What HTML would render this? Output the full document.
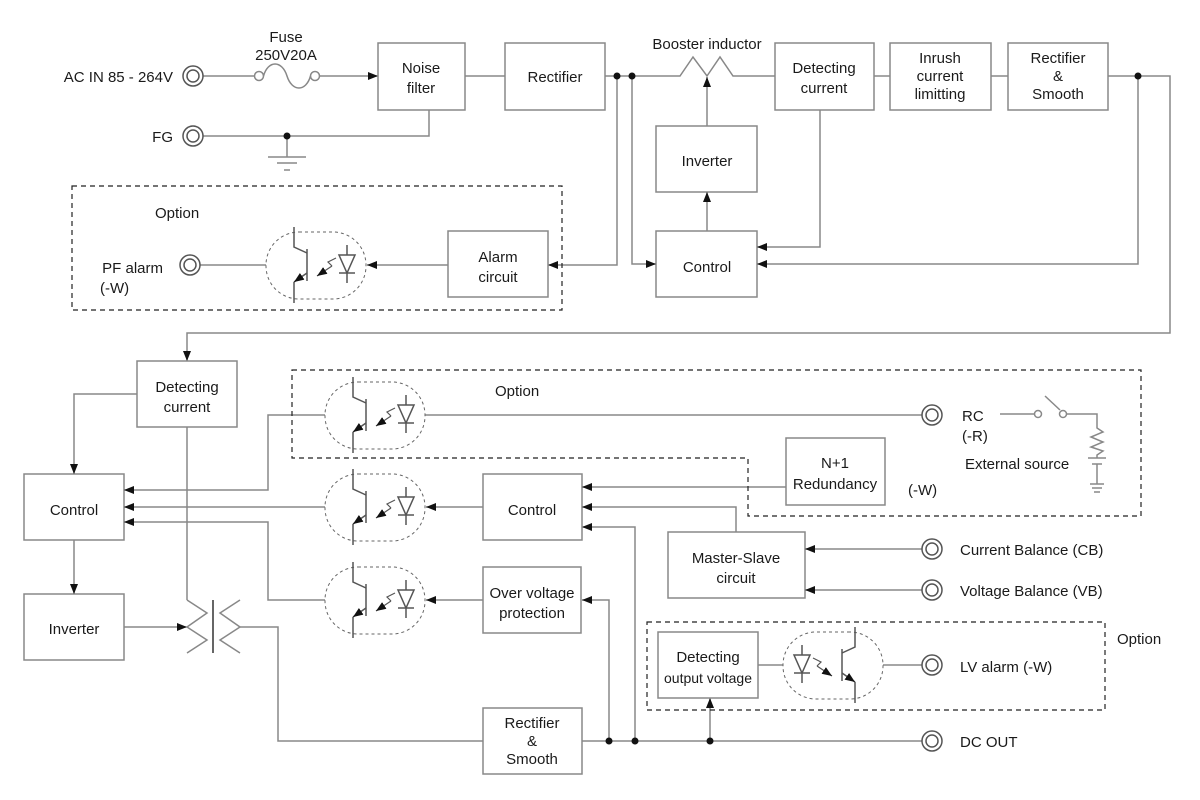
<!DOCTYPE html>
<html><head><meta charset="utf-8"><style>
html,body{margin:0;padding:0;background:#fff}
svg{display:block}
text{font-family:"Liberation Sans",sans-serif;font-size:15px;fill:#1a1a1a}
</style></head><body>
<svg width="1200" height="800" viewBox="0 0 1200 800" xmlns="http://www.w3.org/2000/svg">
<defs>
<marker id="a" markerWidth="10" markerHeight="8" refX="10" refY="4" orient="auto" markerUnits="userSpaceOnUse"><path d="M0,0 L10,4 L0,8 z" fill="#111"/></marker>
<g id="opto">
<rect x="-50" y="-33" width="100" height="67" rx="33" fill="none" stroke="#666" stroke-width="1" stroke-dasharray="3,3"/>
<line x1="-9" y1="-16" x2="-9" y2="16" stroke="#555" stroke-width="1.5"/>
<polyline points="-22,-38 -22,-18 -9,-12" fill="none" stroke="#555" stroke-width="1.5"/>
<polyline points="-22,38 -22,17" fill="none" stroke="#555" stroke-width="1.5"/>
<line x1="-9" y1="8" x2="-22" y2="17" stroke="#555" stroke-width="1.5" marker-end="url(#a)"/>
<line x1="31" y1="-20" x2="31" y2="-10" stroke="#555" stroke-width="1.5"/>
<polygon points="23,-10 39,-10 31,8" fill="none" stroke="#555" stroke-width="1.5"/>
<line x1="23" y1="8" x2="39" y2="8" stroke="#555" stroke-width="1.5"/>
<line x1="31" y1="8" x2="31" y2="18" stroke="#555" stroke-width="1.5"/>
<polyline points="20,-7 12,-3 16,1" fill="none" stroke="#555" stroke-width="1.2"/>
<line x1="16" y1="1" x2="1" y2="11" stroke="#555" stroke-width="1.2" marker-end="url(#a)"/>
</g>
<g id="term"><circle r="10" fill="#fff" stroke="#555" stroke-width="1.5"/><circle r="6" fill="none" stroke="#555" stroke-width="1.5"/></g>
</defs>
<g fill="none" stroke="#888" stroke-width="1.5">
<!-- top -->
<line x1="203" y1="76" x2="255" y2="76"/>
<circle cx="259" cy="76" r="4.5"/><circle cx="315" cy="76" r="4.5"/>
<path d="M263.5,76 C268,60 282,60 287,76 C292,92 306,92 310.5,76"/>
<line x1="319.5" y1="76" x2="378" y2="76" marker-end="url(#a)"/>
<polyline points="203,136 429,136 429,110"/>
<line x1="287" y1="136" x2="287" y2="157"/>
<line x1="268" y1="157" x2="306" y2="157"/><line x1="277" y1="163" x2="297" y2="163"/><line x1="284" y1="170" x2="290" y2="170"/>
<rect x="378" y="43" width="87" height="67"/>
<line x1="465" y1="76" x2="505" y2="76"/>
<rect x="505" y="43" width="100" height="67"/>
<polyline points="605,76 680,76 693,57 707,76 720,57 733,76 775,76"/>
<rect x="775" y="43" width="99" height="67"/>
<line x1="874" y1="76" x2="890" y2="76"/>
<rect x="890" y="43" width="101" height="67"/>
<line x1="991" y1="76" x2="1008" y2="76"/>
<rect x="1008" y="43" width="100" height="67"/>
<polyline points="1108,76 1170,76 1170,333 187,333 187,361" marker-end="url(#a)"/>
<rect x="656" y="126" width="101" height="66"/>
<rect x="656" y="231" width="101" height="66"/>
<line x1="707" y1="126" x2="707" y2="77" marker-end="url(#a)"/>
<line x1="707" y1="231" x2="707" y2="192" marker-end="url(#a)"/>
<polyline points="820,110 820,247 757,247" marker-end="url(#a)"/>
<polyline points="1138,76 1138,264 757,264" marker-end="url(#a)"/>
<polyline points="632,76 632,264 656,264" marker-end="url(#a)"/>
<polyline points="617,76 617,265 548,265" marker-end="url(#a)"/>
<rect x="448" y="231" width="100" height="66"/>
<line x1="448" y1="265" x2="367" y2="265" marker-end="url(#a)"/>
<line x1="200" y1="265" x2="266" y2="265"/>
<!-- bottom left -->
<rect x="137" y="361" width="100" height="66"/>
<rect x="24" y="474" width="100" height="66"/>
<rect x="24" y="594" width="100" height="66"/>
<polyline points="137,394 74,394 74,474" marker-end="url(#a)"/>
<line x1="74" y1="540" x2="74" y2="594" marker-end="url(#a)"/>
<line x1="124" y1="627" x2="187" y2="627" marker-end="url(#a)"/>
<line x1="187" y1="427" x2="187" y2="600"/>
<polyline points="187,600 207,613 187,627 207,640 187,653"/>
<line x1="213" y1="600" x2="213" y2="653" stroke="#333"/>
<polyline points="240,600 220,613 240,627 220,640 240,653"/>
<polyline points="240,627 278,627 278,741 483,741"/>
<rect x="483" y="708" width="99" height="66"/>
<line x1="582" y1="741" x2="922" y2="741"/>
<polyline points="609,741 609,600 582,600" marker-end="url(#a)"/>
<polyline points="635,741 635,527 582,527" marker-end="url(#a)"/>
<line x1="710" y1="741" x2="710" y2="698" marker-end="url(#a)"/>
<rect x="483" y="567" width="98" height="66"/>
<rect x="483" y="474" width="99" height="66"/>
<rect x="786" y="438" width="99" height="67"/>
<line x1="786" y1="487" x2="582" y2="487" marker-end="url(#a)"/>
<rect x="668" y="532" width="137" height="66"/>
<polyline points="736,532 736,507 582,507" marker-end="url(#a)"/>
<line x1="922" y1="549" x2="805" y2="549" marker-end="url(#a)"/>
<line x1="922" y1="590" x2="805" y2="590" marker-end="url(#a)"/>
<rect x="658" y="632" width="100" height="66"/>
<line x1="758" y1="665" x2="783" y2="665"/>
<line x1="883" y1="665" x2="922" y2="665"/>
<!-- left optos wiring -->
<line x1="425" y1="415" x2="922" y2="415"/>
<polyline points="325,415 268,415 268,490 124,490" marker-end="url(#a)"/>
<line x1="325" y1="507" x2="124" y2="507" marker-end="url(#a)"/>
<polyline points="325,600 268,600 268,522 124,522" marker-end="url(#a)"/>
<line x1="483" y1="507" x2="426" y2="507" marker-end="url(#a)"/>
<line x1="483" y1="600" x2="426" y2="600" marker-end="url(#a)"/>
<!-- RC switch -->
<line x1="1000" y1="414" x2="1034" y2="414"/>
<circle cx="1038" cy="414" r="3.5"/><circle cx="1063" cy="414" r="3.5"/>
<line x1="1045" y1="396" x2="1060" y2="410"/>
<polyline points="1067,414 1097,414 1097,428 1103,432 1091,437 1103,442 1091,447 1103,451 1097,455 1097,458"/>
<line x1="1088" y1="458" x2="1106" y2="458"/><line x1="1092" y1="464" x2="1102" y2="464"/>
<line x1="1097" y1="464" x2="1097" y2="484"/>
<line x1="1090" y1="484" x2="1104" y2="484"/><line x1="1092" y1="488" x2="1102" y2="488"/><line x1="1094" y1="492" x2="1100" y2="492"/>
</g>
<g fill="#111">
<circle cx="287" cy="136" r="3.5"/><circle cx="617" cy="76" r="3.5"/><circle cx="632" cy="76" r="3.5"/><circle cx="1138" cy="76" r="3.5"/>
<circle cx="609" cy="741" r="3.5"/><circle cx="635" cy="741" r="3.5"/><circle cx="710" cy="741" r="3.5"/>
</g>
<g fill="none" stroke="#222" stroke-width="1.2" stroke-dasharray="5,4">
<rect x="72" y="186" width="490" height="124"/>
<polygon points="292,370 1141,370 1141,516 748,516 748,458 292,458"/>
<rect x="647" y="622" width="458" height="88"/>
</g>
<use href="#opto" x="316" y="265"/>
<use href="#opto" x="375" y="415"/>
<use href="#opto" x="375" y="507"/>
<use href="#opto" x="375" y="600"/>
<use href="#opto" transform="translate(833,665) scale(-1,1)"/>
<use href="#term" x="193" y="76"/><use href="#term" x="193" y="136"/><use href="#term" x="190" y="265"/>
<use href="#term" x="932" y="415"/><use href="#term" x="932" y="549"/><use href="#term" x="932" y="590"/>
<use href="#term" x="932" y="665"/><use href="#term" x="932" y="741"/>
<text x="173" y="82" text-anchor="end">AC IN 85 - 264V</text>
<text x="173" y="142" text-anchor="end">FG</text>
<text x="286" y="42" text-anchor="middle">Fuse</text>
<text x="286" y="60" text-anchor="middle">250V20A</text>
<g text-anchor="middle">
<text x="421" y="73">Noise</text><text x="421" y="93">filter</text>
<text x="555" y="82">Rectifier</text>
<text x="707" y="49">Booster inductor</text>
<text x="824" y="73">Detecting</text><text x="824" y="93">current</text>
<text x="940" y="63">Inrush</text><text x="940" y="81">current</text><text x="940" y="99">limitting</text>
<text x="1058" y="63">Rectifier</text><text x="1058" y="81">&amp;</text><text x="1058" y="99">Smooth</text>
<text x="707" y="166">Inverter</text>
<text x="707" y="272">Control</text>
<text x="498" y="262">Alarm</text><text x="498" y="282">circuit</text>
<text x="187" y="392">Detecting</text><text x="187" y="412">current</text>
<text x="74" y="515">Control</text>
<text x="74" y="634">Inverter</text>
<text x="532" y="515">Control</text>
<text x="532" y="598">Over voltage</text><text x="532" y="618">protection</text>
<text x="835" y="468">N+1</text><text x="835" y="489">Redundancy</text>
<text x="736" y="563">Master-Slave</text><text x="736" y="583">circuit</text>
<text x="708" y="662">Detecting</text><text x="708" y="683" style="font-size:14px">output voltage</text>
<text x="532" y="728">Rectifier</text><text x="532" y="746">&amp;</text><text x="532" y="764">Smooth</text>
</g>
<text x="155" y="218">Option</text>
<text x="163" y="273" text-anchor="end">PF alarm</text>
<text x="100" y="293">(-W)</text>
<text x="495" y="396">Option</text>
<text x="962" y="421">RC</text><text x="962" y="441">(-R)</text>
<text x="965" y="469">External source</text>
<text x="908" y="495">(-W)</text>
<text x="960" y="555">Current Balance  (CB)</text>
<text x="960" y="596">Voltage Balance  (VB)</text>
<text x="1117" y="644">Option</text>
<text x="960" y="672">LV alarm  (-W)</text>
<text x="960" y="747">DC OUT</text>
</svg>
</body></html>
